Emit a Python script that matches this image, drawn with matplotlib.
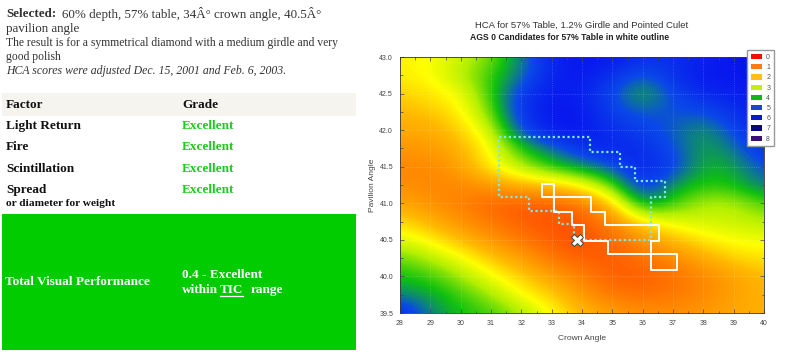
import numpy as np
import matplotlib
matplotlib.use("Agg")
import matplotlib.pyplot as plt
from matplotlib.colors import LinearSegmentedColormap
from matplotlib.patches import Rectangle, Patch

# Datos de la carta HCA (angulo de corona x angulo de pabellon)
crown = [28, 29, 30, 31, 32, 33, 34, 35, 36, 37, 38, 39, 40]
pavilion = [39.5, 39.75, 40.0, 40.25, 40.5, 40.75, 41.0, 41.25,
            41.5, 41.75, 42.0, 42.25, 42.5, 42.75, 43.0]
hca_395 = [5.8, 4.5, 4.0, 3.8, 3.3, 2.6, 2.0, 1.7, 1.5, 1.5, 1.6, 1.8, 1.9]
hca_3975 = [4.5, 4.2, 3.8, 3.3, 2.6, 2.2, 1.6, 1.2, 1.1, 1.2, 1.4, 1.7, 1.9]
hca_400 = [4.0, 3.8, 3.3, 2.7, 2.2, 1.7, 1.3, 0.9, 0.9, 1.1, 1.4, 1.7, 2.0]
hca_4025 = [3.6, 3.2, 2.7, 2.1, 1.7, 1.2, 0.9, 0.9, 1.1, 1.4, 1.8, 2.2, 2.4]
hca_405 = [2.9, 2.5, 2.0, 1.6, 1.2, 0.9, 0.7, 1.0, 1.5, 2.0, 2.4, 2.7, 2.7]
hca_4075 = [2.3, 1.9, 1.5, 1.2, 0.9, 0.8, 0.8, 1.4, 2.4, 2.8, 3.0, 3.0, 3.2]
hca_410 = [1.8, 1.5, 1.3, 1.0, 0.9, 0.9, 1.2, 2.1, 4.4, 3.8, 3.2, 3.2, 3.7]
hca_4125 = [1.5, 1.4, 1.4, 1.6, 1.9, 2.1, 2.6, 3.6, 5.5, 4.3, 3.9, 4.0, 4.6]
hca_415 = [1.4, 1.4, 1.7, 2.5, 3.2, 3.9, 4.3, 4.9, 5.8, 5.2, 4.1, 4.2, 5.0]
hca_4175 = [1.6, 1.6, 1.9, 2.6, 3.9, 4.6, 5.5, 5.8, 5.5, 5.0, 4.2, 4.6, 5.5]
hca_420 = [1.8, 1.8, 2.2, 3.0, 5.0, 6.0, 6.0, 5.5, 5.2, 4.8, 4.3, 5.0, 5.8]
hca_4225 = [2.0, 2.1, 2.5, 3.5, 5.5, 6.0, 6.0, 5.2, 4.8, 5.0, 4.9, 5.5, 6.0]
hca_425 = [2.2, 2.4, 2.7, 3.8, 5.3, 6.0, 5.8, 5.0, 4.0, 5.0, 5.7, 5.8, 6.0]
hca_4275 = [2.5, 2.6, 3.2, 3.8, 4.6, 5.8, 6.0, 5.5, 4.8, 5.5, 6.0, 6.0, 6.1]
hca_430 = [2.5, 2.6, 3.0, 3.5, 4.5, 5.8, 6.0, 6.0, 5.5, 5.5, 5.8, 6.0, 6.2]

# contorno blanco: candidatos AGS 0
ags0_crown = [32.69, 33.09, 33.09, 34.30, 34.30, 34.76, 34.76, 36.54, 36.54, 36.28,
              36.28, 37.12, 37.12, 36.28, 36.28, 34.87, 34.87, 34.08, 34.08, 33.68,
              33.68, 33.09, 33.09, 32.69, 32.69]
ags0_pav = [41.26, 41.26, 41.09, 41.09, 40.88, 40.88, 40.70, 40.70, 40.49, 40.49,
            40.30, 40.30, 40.09, 40.09, 40.30, 40.30, 40.49, 40.49, 40.70, 40.70,
            40.88, 40.88, 41.09, 41.09, 41.26]
# contorno punteado cian
tic_crown = [31.25, 34.25, 34.25, 35.25, 35.25, 35.75, 35.75, 36.75, 36.75, 36.29,
             36.29, 33.75, 33.75, 33.25, 33.25, 32.25, 32.25, 31.25, 31.25]
tic_pav = [41.90, 41.90, 41.70, 41.70, 41.50, 41.50, 41.31, 41.31, 41.09, 41.09,
           40.50, 40.50, 40.71, 40.71, 40.90, 40.90, 41.09, 41.09, 41.90]
selected = (33.84, 40.5)

legend_labels = ["0", "1", "2", "3", "4", "5", "6", "7", "8"]
legend_colors = ["#f20c0c", "#ff7a12", "#ffc012", "#c8ec12", "#12b812",
                 "#1a48c8", "#0a18d2", "#0a0a78", "#3a1078"]

factors = ["Light Return", "Fire", "Scintillation", "Spread"]
grades = ["Excellent", "Excellent", "Excellent", "Excellent"]

hca = np.array([hca_395, hca_3975, hca_400, hca_4025, hca_405, hca_4075, hca_410,
                hca_4125, hca_415, hca_4175, hca_420, hca_4225, hca_425, hca_4275,
                hca_430])

cmap = LinearSegmentedColormap.from_list("hca", [
    (0.0, "#ff0000"), (1 / 8, "#ff6800"), (2 / 8, "#ffba00"), (2.6 / 8, "#ffff00"),
    (3.2 / 8, "#b4f000"), (4 / 8, "#10c010"), (5 / 8, "#0a48e8"), (6 / 8, "#0818f0"),
    (7 / 8, "#00006e"), (1.0, "#400080")])

fig = plt.figure(figsize=(7.85, 3.56), dpi=100)

# ---- panel izquierdo (tabla) ----
axl = fig.add_axes([0, 0, 360 / 785, 1])
axl.set_xlim(0, 360)
axl.set_ylim(356, 0)
axl.axis("off")
serif = "Liberation Serif"
txt = "#333333"
axl.text(6, 14, "Selected:", fontfamily=serif, fontweight="bold", fontsize=9.4, color=txt, va="center")
axl.text(62, 14, "60% depth, 57% table, 34Â° crown angle, 40.5Â°", fontfamily=serif,
         fontsize=9.4, color=txt, va="center")
axl.text(6, 29, "pavilion angle", fontfamily=serif, fontsize=9.4, color=txt, va="center")
axl.text(6, 43, "The result is for a symmetrical diamond with a medium girdle and very",
         fontfamily=serif, fontsize=8.4, color=txt, va="center")
axl.text(6, 57, "good polish", fontfamily=serif, fontsize=8.4, color=txt, va="center")
axl.text(6, 71, "HCA scores were adjusted Dec. 15, 2001 and Feb. 6, 2003.", fontfamily=serif,
         fontsize=8.5, style="italic", color=txt, va="center")

axl.add_patch(Rectangle((2, 93), 354, 23, color="#f5f4ee", lw=0))
axl.text(6, 105, "Factor", fontfamily=serif, fontweight="bold", fontsize=9.5, color="#111111", va="center")
axl.text(182, 105, "Grade", fontfamily=serif, fontweight="bold", fontsize=9.5, color="#111111", va="center")
for i, (f, g) in enumerate(zip(factors, grades)):
    y = 126 + i * 21.3
    axl.text(6, y, f, fontfamily=serif, fontweight="bold", fontsize=9.5, color="#111111", va="center")
    axl.text(182, y, g, fontfamily=serif, fontweight="bold", fontsize=9.5, color="#1ccc1c", va="center")
axl.text(6, 204, "or diameter for weight", fontfamily=serif, fontweight="bold", fontsize=8.2,
         color="#111111", va="center")

axl.add_patch(Rectangle((2, 214), 354, 136, color="#00cc00", lw=0))
axl.text(5, 282, "Total Visual Performance", fontfamily=serif, fontweight="bold", fontsize=9.5,
         color="white", va="center")
axl.text(182, 275, "0.4 - Excellent", fontfamily=serif, fontweight="bold", fontsize=9.5,
         color="white", va="center")
axl.text(182, 290, "within", fontfamily=serif, fontweight="bold", fontsize=9.5, color="white", va="center")
axl.text(220, 290, "TIC", fontfamily=serif, fontweight="bold", fontsize=9.5, color="white", va="center")
axl.plot([220, 243], [296, 296], color="white", lw=0.9)
axl.text(251, 290, "range", fontfamily=serif, fontweight="bold", fontsize=9.5, color="white", va="center")

# ---- mapa HCA ----
sans = "Liberation Sans"
ax = fig.add_axes([400 / 785, 43 / 356, 364 / 785, 256 / 356])
ax.imshow(hca, cmap=cmap, vmin=0, vmax=8, origin="lower", aspect="auto",
          interpolation="bicubic",
          extent=(crown[0] - 0.5, crown[-1] + 0.5, pavilion[0] - 0.125, pavilion[-1] + 0.125))
ax.set_xlim(28, 40)
ax.set_ylim(39.5, 43.0)
ax.grid(True, color="white", alpha=0.25, ls=":", lw=0.6)

ax.plot(tic_crown, tic_pav, color="#7fe8e0", lw=1.6, ls=(0, (1, 1.2)))
ax.plot(ags0_crown, ags0_pav, color="white", lw=1.4)
ax.plot(*selected, marker="X", ms=8, mfc="white", mec="#333333", mew=0.6)

ax.set_xticks(crown)
ax.set_yticks([39.5, 40.0, 40.5, 41.0, 41.5, 42.0, 42.5, 43.0])
ax.set_yticklabels(["39.5", "40.0", "40.5", "41.0", "41.5", "42.0", "42.5", "43.0"])
ax.set_xticks(np.arange(28, 40.01, 0.5), minor=True)
ax.set_yticks(np.arange(39.5, 43.01, 0.25), minor=True)
ax.tick_params(which="both", direction="in", top=True, right=True, colors="#444444",
               labelsize=5, pad=5)
ax.tick_params(which="major", length=3, width=0.5)
ax.tick_params(which="minor", length=1.8, width=0.5)
for lab in ax.get_xticklabels() + ax.get_yticklabels():
    lab.set_fontfamily(sans)
for s in ax.spines.values():
    s.set_linewidth(0.6)
    s.set_color("#333333")

fig.text(372 / 785, 1 - 185 / 356, "Pavilion Angle", rotation=90, fontfamily=sans, fontsize=6,
         color="#444444", ha="center", va="center")
fig.text(582 / 785, 1 - 339 / 356, "Crown Angle", fontfamily=sans, fontsize=6,
         color="#444444", ha="center", va="center")
fig.text(582 / 785, 1 - 25 / 356, "HCA for 57% Table, 1.2% Girdle and Pointed Culet",
         fontfamily=sans, fontsize=6.8, color="#333333", ha="center", va="center")
fig.text(570 / 785, 1 - 38 / 356, "AGS 0 Candidates for 57% Table in white outline",
         fontfamily=sans, fontsize=6.2, fontweight="bold", color="#222222", ha="center", va="center")

handles = [Patch(facecolor=c, edgecolor="none") for c in legend_colors]
leg = fig.legend(handles, legend_labels, loc="upper left", bbox_to_anchor=(744 / 785, 1 - 47 / 356),
                 prop={"family": sans, "size": 5}, handlelength=1.6, handleheight=0.8,
                 labelspacing=0.45, borderpad=0.5, handletextpad=0.6, fancybox=False,
                 edgecolor="#999999", framealpha=1)
for t in leg.get_texts():
    t.set_color("#555555")

fig.savefig("out.png", dpi=100)
